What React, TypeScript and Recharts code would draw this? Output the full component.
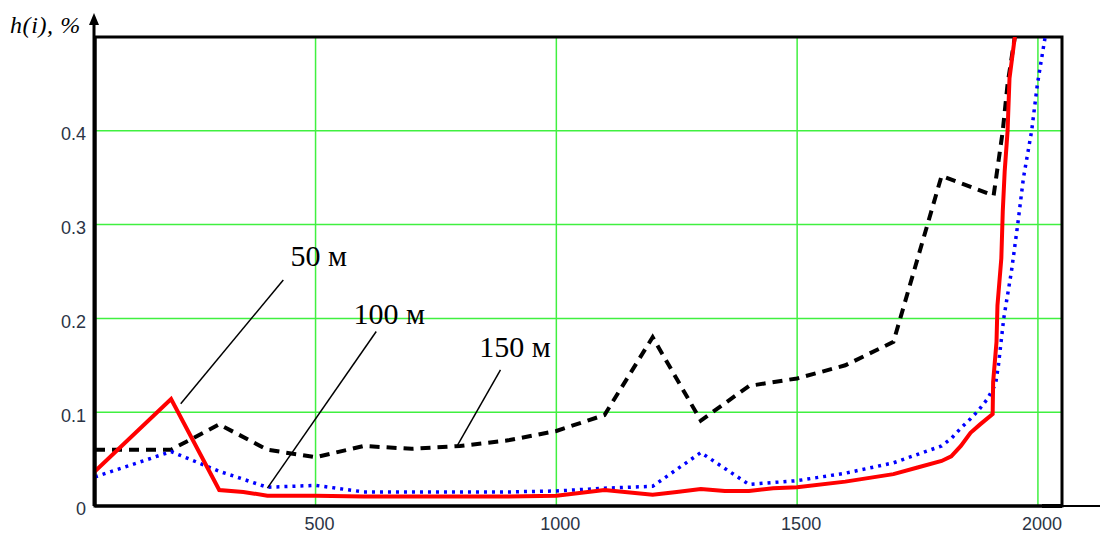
import React from "react";
import {
  LineChart,
  Line,
  XAxis,
  YAxis,
  CartesianGrid,
  ReferenceArea,
  ReferenceLine,
  ReferenceDot,
} from "recharts";

// 50 м (red, solid)
const x50 = [42, 200, 300, 350, 400, 500, 600, 700, 800, 900, 1000, 1100, 1200, 1250, 1300, 1350, 1400, 1450, 1500, 1600, 1700, 1750, 1800, 1820, 1840, 1860, 1880, 1906, 1907, 1914, 1916, 1924, 1927, 1931, 1937, 1941, 1952, 1960];
const h50 = [0.037, 0.114, 0.017, 0.015, 0.011, 0.011, 0.010, 0.010, 0.010, 0.010, 0.011, 0.017, 0.012, 0.015, 0.018, 0.016, 0.016, 0.019, 0.020, 0.026, 0.034, 0.041, 0.048, 0.053, 0.064, 0.078, 0.087, 0.098, 0.132, 0.175, 0.214, 0.264, 0.314, 0.357, 0.400, 0.456, 0.500, 0.560];

// 100 м (blue, dotted)
const x100 = [42, 200, 300, 400, 500, 600, 700, 800, 900, 1000, 1100, 1200, 1300, 1400, 1500, 1600, 1700, 1750, 1800, 1820, 1840, 1860, 1875, 1895, 1912, 1918, 1929, 1945, 1958, 1970, 1987, 1999, 2015, 2025];
const h100 = [0.031, 0.058, 0.037, 0.020, 0.022, 0.015, 0.015, 0.015, 0.015, 0.016, 0.019, 0.021, 0.057, 0.023, 0.027, 0.035, 0.046, 0.055, 0.064, 0.072, 0.083, 0.093, 0.101, 0.114, 0.130, 0.150, 0.200, 0.250, 0.300, 0.350, 0.400, 0.450, 0.500, 0.540];

// 150 м (black, dashed)
const x150 = [42, 200, 300, 400, 500, 600, 700, 800, 900, 1000, 1100, 1200, 1300, 1400, 1500, 1600, 1700, 1800, 1908, 1921, 1927, 1937, 1952, 1960];
const h150 = [0.060, 0.060, 0.087, 0.060, 0.052, 0.064, 0.061, 0.064, 0.070, 0.080, 0.097, 0.180, 0.091, 0.128, 0.136, 0.150, 0.175, 0.352, 0.331, 0.378, 0.400, 0.450, 0.500, 0.550];

const xTicks = [500, 1000, 1500, 2000];
const yTicks = [0, 0.1, 0.2, 0.3, 0.4];

// callouts: label, text anchor (left/baseline), leader line from -> to
const noteLabels = ["50 м", "100 м", "150 м"];
const noteTextX = [448, 579, 840];
const noteTextY = [0.256, 0.194, 0.159];
const noteFrom = [
  { x: 433, y: 0.241 },
  { x: 626, y: 0.186 },
  { x: 884, y: 0.145 },
];
const noteTo = [
  { x: 220, y: 0.109 },
  { x: 400, y: 0.019 },
  { x: 794, y: 0.064 },
];

const toRows = (xs: number[], ys: number[]) => xs.map((x, i) => ({ x, h: ys[i] }));

const tickFont = { fontFamily: "Liberation Sans, Arial, sans-serif", fontSize: 18, fill: "#2b3445" };
const GRID = "#40f040";

const NoteText = (text: string) => (props: any) => {
  const vb = props.viewBox || {};
  return (
    <text
      x={vb.x}
      y={vb.y}
      fontFamily="Liberation Serif, Times New Roman, serif"
      fontSize={30}
      fill="#000"
    >
      {text}
    </text>
  );
};

export default function App() {
  return (
    <div style={{ position: "absolute", left: 0, top: 0, width: 1100, height: 533, background: "#fff" }}>
      <LineChart
        width={1100}
        height={533}
        margin={{ top: 37, right: 38, bottom: 0, left: 0 }}
      >
        <CartesianGrid stroke={GRID} strokeWidth={1.5} horizontal vertical />
        <XAxis
          type="number"
          dataKey="x"
          domain={[42, 2050]}
          allowDataOverflow
          ticks={xTicks}
          height={27}
          tickSize={0}
          tickMargin={11}
          axisLine={{ stroke: "#000", strokeWidth: 3 }}
          tick={{ ...tickFont, dx: 4 }}
        />
        <YAxis
          type="number"
          domain={[0, 0.5]}
          allowDataOverflow
          ticks={yTicks}
          width={95}
          tickSize={0}
          tickMargin={9}
          axisLine={{ stroke: "#000", strokeWidth: 3 }}
          tick={{ ...tickFont, dy: 3 }}
        />
        <ReferenceArea x1={42} x2={2050} y1={0} y2={0.5} fill="none" stroke="#000" strokeWidth={3} />
        <Line
          data={toRows(x150, h150)}
          dataKey="h"
          stroke="#000"
          strokeWidth={4}
          strokeDasharray="10 7"
          dot={false}
          isAnimationActive={false}
        />
        <Line
          data={toRows(x100, h100)}
          dataKey="h"
          stroke="#0000ff"
          strokeWidth={3.5}
          strokeDasharray="3 5"
          dot={false}
          isAnimationActive={false}
        />
        <Line
          data={toRows(x50, h50)}
          dataKey="h"
          stroke="#ff0000"
          strokeWidth={4}
          dot={false}
          isAnimationActive={false}
        />
        {noteLabels.map((t, i) => (
          <ReferenceLine
            key={`ln-${i}`}
            segment={[noteFrom[i], noteTo[i]]}
            stroke="#000"
            strokeWidth={1.5}
          />
        ))}
        {noteLabels.map((t, i) => (
          <ReferenceDot
            key={`tx-${i}`}
            x={noteTextX[i]}
            y={noteTextY[i]}
            r={0}
            fill="none"
            stroke="none"
            label={{ content: NoteText(t) }}
          />
        ))}
      </LineChart>
      <svg
        width={1100}
        height={533}
        style={{ position: "absolute", left: 0, top: 0, pointerEvents: "none" }}
      >
        <line x1={94} y1={506} x2={94} y2={22} stroke="#000" strokeWidth={3} />
        <polygon points="89,25 94,13 99,25" fill="#000" />
        <line x1={1062} y1={506} x2={1100} y2={506} stroke="#000" strokeWidth={2} />
        <rect x={1042} y={504} width={20} height={4} fill="#000" />
        <text
          x={10}
          y={33}
          fontFamily="Liberation Serif, Times New Roman, serif"
          fontStyle="italic"
          fontSize={24}
          letterSpacing={0.6}
          fill="#000"
        >
          h(i), %
        </text>
      </svg>
    </div>
  );
}
